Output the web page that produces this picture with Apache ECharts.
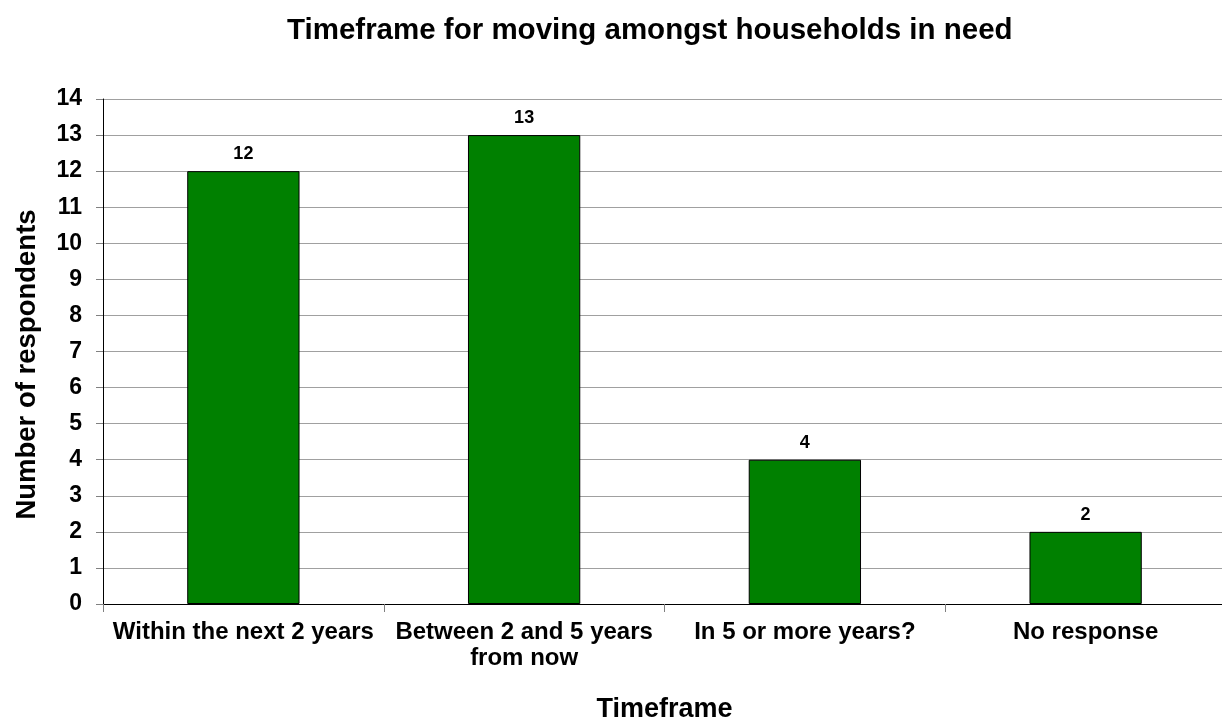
<!DOCTYPE html>
<html>
<head>
<meta charset="utf-8">
<script src="https://cdn.jsdelivr.net/npm/echarts@6/dist/echarts.min.js"></script>
<style>
  html, body { margin: 0; padding: 0; background: #fff; }
  #chart { width: 1222px; height: 724px; }
</style>
</head>
<body>
<div id="chart"></div>
<script>
const categories = ['Within the next 2 years', 'Between 2 and 5 years\nfrom now', 'In 5 or more years?', 'No response']
const respondents = [12, 13, 4, 2]

const font = 'Liberation Sans, Arial, sans-serif'

const chart = echarts.init(document.getElementById('chart'))
chart.setOption({
  animation: false,
  title: {
    text: 'Timeframe for moving amongst households in need',
    left: 282,
    top: 11,
    textStyle: { fontFamily: font, fontSize: 29.5, fontWeight: 'bold', color: '#000' }
  },
  grid: {
    left: 103,
    right: -4,
    top: 99,
    bottom: 120,
    outerBoundsMode: 'none'
  },
  xAxis: {
    type: 'category',
    data: categories,
    name: 'Timeframe',
    nameLocation: 'middle',
    nameGap: 92,
    nameTextStyle: { fontFamily: font, fontSize: 27, fontWeight: 'bold', color: '#000' },
    axisLine: { lineStyle: { color: '#000', width: 1 } },
    axisTick: { show: true, length: 8, lineStyle: { color: '#808080' } },
    axisLabel: {
      fontFamily: font, fontSize: 24, fontWeight: 'bold', color: '#000',
      margin: 15, lineHeight: 26, interval: 0
    }
  },
  yAxis: {
    type: 'value',
    min: 0,
    max: 14,
    interval: 1,
    name: 'Number of respondents',
    nameLocation: 'middle',
    nameGap: 62,
    nameTextStyle: {
      fontFamily: font, fontSize: 27.5, fontWeight: 'bold', color: '#000',
      padding: [0, 26, 0, 0]
    },
    axisLine: { show: true, lineStyle: { color: '#000', width: 1 } },
    axisTick: { show: true, length: 7, lineStyle: { color: '#808080' } },
    axisLabel: { fontFamily: font, fontSize: 23, fontWeight: 'bold', color: '#000', margin: 21 },
    splitLine: { lineStyle: { color: '#a0a0a0', width: 1 } }
  },
  series: [{
    name: 'Number of respondents',
    type: 'bar',
    data: respondents,
    barWidth: '40%',
    itemStyle: { color: '#008000', borderColor: '#000', borderWidth: 1 },
    label: {
      show: true,
      position: 'top',
      distance: 8,
      fontFamily: font,
      fontSize: 18,
      fontWeight: 'bold',
      color: '#000'
    }
  }]
})
</script>
</body>
</html>
